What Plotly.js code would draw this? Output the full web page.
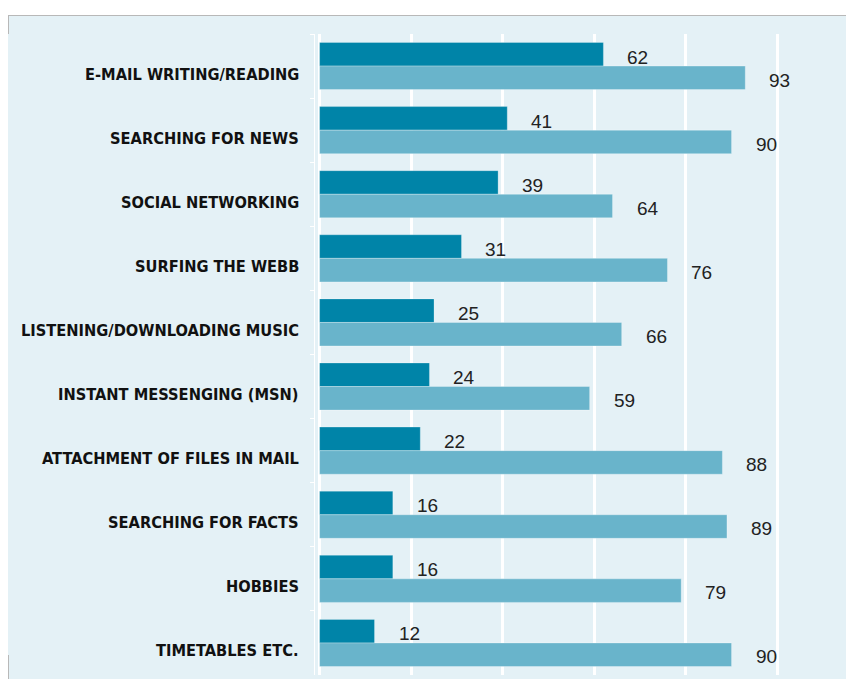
<!DOCTYPE html>
<html>
<head>
<meta charset="utf-8">
<script src="https://cdn.plot.ly/plotly-3.0.1.min.js"></script>
<style>
  html, body { margin: 0; padding: 0; background: #ffffff; }
  #bg { position: absolute; left: 8px; top: 15px; width: 838px; height: 664px; background: #e4f1f6; border-top: 1px solid #b8b8b8; box-sizing: border-box; }
  .lb { position: absolute; left: 8px; width: 1px; background: #b8b8b8; }
  #chart { position: absolute; left: 0; top: 0; width: 846px; height: 679px; }
</style>
</head>
<body>
<div id="bg"></div>
<div class="lb" style="top:15px;height:19px;"></div>
<div class="lb" style="top:655px;height:24px;"></div>
<div id="chart"></div>
<script>
const categories = [
  "E-MAIL WRITING/READING",
  "SEARCHING FOR NEWS",
  "SOCIAL NETWORKING",
  "SURFING THE WEBB",
  "LISTENING/DOWNLOADING MUSIC",
  "INSTANT MESSENGING (MSN)",
  "ATTACHMENT OF FILES IN MAIL",
  "SEARCHING FOR FACTS",
  "HOBBIES",
  "TIMETABLES ETC."
];
const seriesDark = [62, 41, 39, 31, 25, 24, 22, 16, 16, 12];
const seriesLight = [93, 90, 64, 76, 66, 59, 88, 89, 79, 90];

const darkColor = "#0084a8";
const lightColor = "#69b4cb";

const traces = [
  {
    type: "bar", orientation: "h", name: "A",
    x: seriesDark, y: categories,
    marker: { color: darkColor, line: { color: "rgba(255,255,255,0.25)", width: 1 } },
    hoverinfo: "x"
  },
  {
    type: "bar", orientation: "h", name: "B",
    x: seriesLight, y: categories,
    marker: { color: lightColor, line: { color: "rgba(255,255,255,0.3)", width: 1 } },
    hoverinfo: "x"
  }
];

const valueFont = { family: "Liberation Sans, Arial, sans-serif", size: 19, color: "#222222" };
const catFont = { family: "DejaVu Sans Condensed, Liberation Sans Narrow, sans-serif", size: 16.3, color: "#111111", weight: "bold" };
const annotations = [];
categories.forEach((c, i) => {
  annotations.push({ xref: "paper", x: 0, y: c, text: c, showarrow: false,
    xanchor: "right", yanchor: "middle", xshift: -14, yshift: -8, font: catFont });
  annotations.push({ x: seriesDark[i], y: c, text: String(seriesDark[i]), showarrow: false,
    xanchor: "left", yanchor: "middle", xshift: 22, yshift: 9, font: valueFont });
  annotations.push({ x: seriesLight[i], y: c, text: String(seriesLight[i]), showarrow: false,
    xanchor: "left", yanchor: "middle", xshift: 22, yshift: -14, font: valueFont });
});

const layout = {
  width: 846, height: 679,
  margin: { l: 315, r: 0, t: 34, b: 4, pad: 0 },
  paper_bgcolor: "rgba(0,0,0,0)",
  plot_bgcolor: "rgba(0,0,0,0)",
  showlegend: false,
  barmode: "group",
  bargap: 0.265,
  bargroupgap: 0,
  xaxis: {
    range: [-1, 115],
    dtick: 20, tick0: 0,
    showgrid: true, gridcolor: "#ffffff", gridwidth: 3,
    zeroline: false,
    showticklabels: false,
    ticks: "",
    fixedrange: true
  },
  yaxis: {
    autorange: "reversed",
    type: "category",
    showline: true, linecolor: "#ffffff", linewidth: 1,
    ticks: "outside", tickson: "boundaries", ticklen: 4, tickcolor: "#ffffff", tickwidth: 1,
    showgrid: false,
    showticklabels: false,
    fixedrange: true
  },
  annotations: annotations
};

Plotly.newPlot("chart", traces, layout, { displayModeBar: false, staticPlot: true });
</script>
</body>
</html>
